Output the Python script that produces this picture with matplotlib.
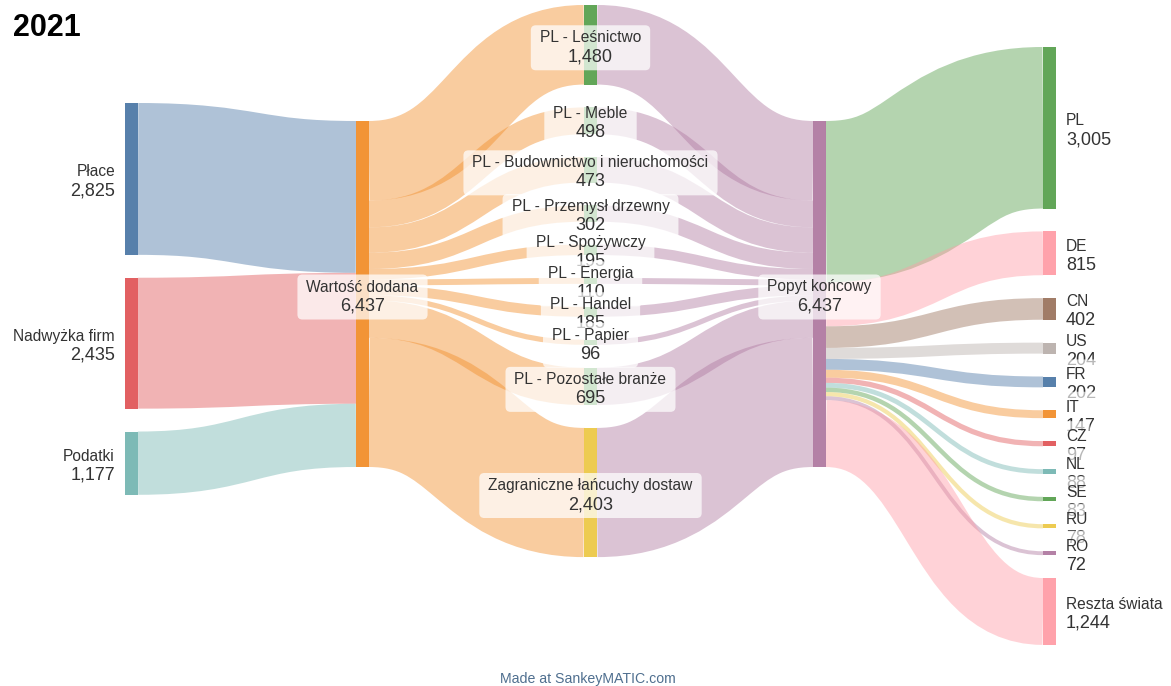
import matplotlib
matplotlib.use("Agg")
import matplotlib.pyplot as plt
from matplotlib.path import Path
from matplotlib.patches import PathPatch, Rectangle, FancyBboxPatch

# ---- data ----
SRC_NAMES = ["Płace", "Nadwyżka firm", "Podatki"]
SRC_VALUES = [2825, 2435, 1177]
SRC_COLORS = ["#4e79a7", "#e15759", "#76b7b2"]

VA_NAME = "Wartość dodana"
FD_NAME = "Popyt końcowy"

MID_NAMES = ["PL - Leśnictwo", "PL - Meble", "PL - Budownictwo i nieruchomości",
             "PL - Przemysł drzewny", "PL - Spożywczy", "PL - Energia",
             "PL - Handel", "PL - Papier", "PL - Pozostałe branże",
             "Zagraniczne łańcuchy dostaw"]
MID_VALUES = [1480, 498, 473, 302, 195, 110, 185, 96, 695, 2403]
MID_COLORS = ["#59a14f"] * 9 + ["#edc948"]

DEST_NAMES = ["PL", "DE", "CN", "US", "FR", "IT", "CZ", "NL", "SE", "RU", "RO",
              "Reszta świata"]
DEST_VALUES = [3005, 815, 402, 204, 202, 147, 97, 88, 83, 78, 72, 1244]
DEST_COLORS = ["#59a14f", "#ff9da7", "#9c755f", "#bab0ac", "#4e79a7", "#f28e2b",
               "#e15759", "#76b7b2", "#59a14f", "#edc948", "#b07aa1", "#ff9da7"]

VA_COLOR = "#f28e2b"
FD_COLOR = "#b07aa1"

# ---- layout (pixels of the 1171x686 canvas) ----
W, H = 1171, 686
TOTAL = sum(SRC_VALUES)
SCALE = 346.0 / TOTAL          # px per unit
GAP = 22.9
NODE_W = 13
COL_X = [125, 356, 584, 813, 1043]
COL_TOP = [103, 121, 5, 121, 47]
FLOW_ALPHA = 0.45
TXT = "#333333"
FONT = ["Liberation Sans", "DejaVu Sans"]


def stack(values, top):
    out, y = [], top
    for v in values:
        h = v * SCALE
        out.append([y, y + h])
        y += h + GAP
    return out


def flow(ax, x0, y0, x1, y1, width_px, color):
    # SankeyMATIC draws each flow as a thick stroked bezier, not a filled band
    xm = (x0 + x1) / 2
    path = Path([(x0, y0), (xm, y0), (xm, y1), (x1, y1)],
                [Path.MOVETO, Path.CURVE4, Path.CURVE4, Path.CURVE4])
    ax.add_patch(PathPatch(path, facecolor="none", edgecolor=color,
                           linewidth=width_px * 0.72, alpha=FLOW_ALPHA,
                           capstyle="butt", zorder=1))


fig = plt.figure(figsize=(W / 100, H / 100), dpi=100)
ax = fig.add_axes([0, 0, 1, 1])
ax.set_xlim(0, W)
ax.set_ylim(H, 0)
ax.axis("off")

cols = [
    (SRC_NAMES, SRC_VALUES, SRC_COLORS),
    ([VA_NAME], [TOTAL], [VA_COLOR]),
    (MID_NAMES, MID_VALUES, MID_COLORS),
    ([FD_NAME], [TOTAL], [FD_COLOR]),
    (DEST_NAMES, DEST_VALUES, DEST_COLORS),
]
pos = [stack(vals, COL_TOP[c]) for c, (_, vals, _) in enumerate(cols)]

# flows: (col, idx) -> (col, idx), value, colour
flows = []
for i, v in enumerate(SRC_VALUES):
    flows.append((0, i, 1, 0, v, SRC_COLORS[i]))
for i, v in enumerate(MID_VALUES):
    flows.append((1, 0, 2, i, v, VA_COLOR))
for i, v in enumerate(MID_VALUES):
    flows.append((2, i, 3, 0, v, FD_COLOR))
for i, v in enumerate(DEST_VALUES):
    flows.append((3, 0, 4, i, v, DEST_COLORS[i]))

out_off = {}
in_off = {}
for sc, si, tc, ti, v, color in flows:
    h = v * SCALE
    ys = pos[sc][si][0] + out_off.get((sc, si), 0)
    yt = pos[tc][ti][0] + in_off.get((tc, ti), 0)
    out_off[(sc, si)] = out_off.get((sc, si), 0) + h
    in_off[(tc, ti)] = in_off.get((tc, ti), 0) + h
    flow(ax, COL_X[sc] + NODE_W, ys + h / 2, COL_X[tc], yt + h / 2, h, color)

# nodes
for c, (names, vals, colors) in enumerate(cols):
    for (y0, y1), color in zip(pos[c], colors):
        ax.add_patch(Rectangle((COL_X[c], y0), NODE_W, y1 - y0, facecolor=color,
                               edgecolor="none", alpha=0.95, zorder=2))

# labels (later boxes partly veil earlier values, as in the original)
renderer = fig.canvas.get_renderer()
inv = ax.transData.inverted()
z = 10
for c, (names, vals, colors) in enumerate(cols):
    for (y0, y1), name, v in zip(pos[c], names, vals):
        yc = (y0 + y1) / 2
        if c == 0:
            x, ha, show_box = COL_X[0] - 10, "right", False
        elif c == 4:
            x, ha, show_box = COL_X[4] + NODE_W + 10, "left", False
        else:
            x, ha, show_box = COL_X[c] + NODE_W / 2, "center", True
        t1 = ax.text(x, yc + 0.5, name, ha=ha, va="bottom", fontsize=11.2,
                     color=TXT, family=FONT, zorder=z + 1)
        t2 = ax.text(x, yc + 3.5, f"{v:,}", ha=ha, va="top", fontsize=13,
                     color=TXT, family=FONT, zorder=z + 1)
        bb1 = t1.get_window_extent(renderer)
        bb2 = t2.get_window_extent(renderer)
        xa = min(bb1.x0, bb2.x0)
        xb = max(bb1.x1, bb2.x1)
        ya = min(bb1.y0, bb2.y0)
        yb = max(bb1.y1, bb2.y1)
        (dx0, dy0), (dx1, dy1) = inv.transform([(xa, ya), (xb, yb)])
        padx, pady = (9, 5) if show_box else (3, 8)
        bx0, bx1 = dx0 - padx, dx1 + padx
        by0, by1 = dy1 - pady, dy0 + pady
        ax.add_patch(FancyBboxPatch((bx0, by0), bx1 - bx0, by1 - by0,
                                    boxstyle="round,pad=0,rounding_size=5",
                                    facecolor="white", edgecolor="none",
                                    alpha=0.72 if show_box else 0.65, zorder=z))
        z += 2

ax.text(13, 13, "2021", ha="left", va="top", fontsize=22, fontweight="bold",
        color="black", family=FONT)
ax.text(588, 679, "Made at SankeyMATIC.com", ha="center", va="center",
        fontsize=10.2, color="#4f6f8f", family=FONT)

fig.savefig("out.png", dpi=100)
